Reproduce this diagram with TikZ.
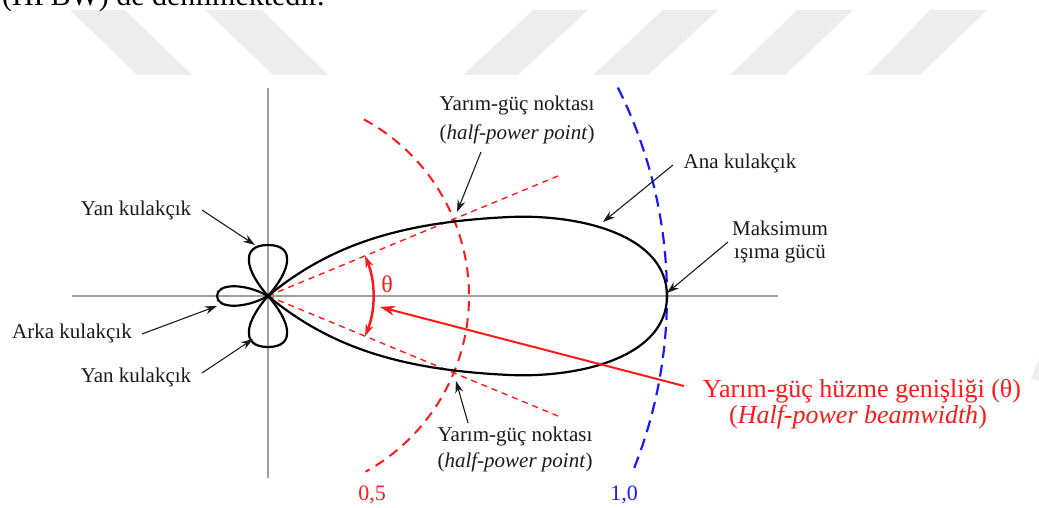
\documentclass[tikz,border=0pt]{standalone}
\usepackage{fontspec}
\setmainfont{Liberation Serif}
\usetikzlibrary{arrows.meta}
\definecolor{wm}{HTML}{EDEDED}
\definecolor{axisgray}{HTML}{A0A0A0}
\definecolor{hred}{HTML}{FF1A1A}
\definecolor{hblue}{HTML}{1A1AFF}
\definecolor{ink}{HTML}{1A1A1A}
\begin{document}
\begin{tikzpicture}[x=1pt,y=-1pt,
  lbl/.style={font=\fontsize{21}{25}\selectfont, text=ink, inner sep=0pt, anchor=base},
  redlbl/.style={font=\fontsize{26}{30}\selectfont, text=hred, inner sep=0pt, anchor=base},
  numlbl/.style={font=\fontsize{22}{26}\selectfont, inner sep=0pt, anchor=base},
  callout/.style={-{Stealth[length=12pt,width=8pt]}, line width=1.1pt, draw=ink},
  axisline/.style={line width=2pt, draw=axisgray},
  lobe/.style={line width=2.2pt, draw=black},
  hpline/.style={line width=1.4pt, draw=hred, dash pattern=on 6pt off 5pt},
  halfarc/.style={line width=2pt, draw=hred, dash pattern=on 10pt off 7pt},
  fullarc/.style={line width=2.2pt, draw=hblue, dash pattern=on 12pt off 7pt},
  thetaarc/.style={{Stealth[length=12pt,width=8pt]}-{Stealth[length=12pt,width=8pt]}, line width=2.5pt, draw=hred},
  bwarrow/.style={-{Stealth[length=15pt,width=10pt]}, line width=2pt, draw=hred}]
\useasboundingbox (0,0) rectangle (1039,508);
\clip (0,0) rectangle (1039,508);
% watermark
\fill[wm] (70,10) -- (125,10) -- (192,75) -- (137,75) -- cycle;
\fill[wm] (205,10) -- (262,10) -- (328,75) -- (273,75) -- cycle;
\fill[wm] (533,10) -- (588,10) -- (518,75) -- (463,75) -- cycle;
\fill[wm] (663,10) -- (718,10) -- (648,75) -- (593,75) -- cycle;
\fill[wm] (797,10) -- (853,10) -- (785,75) -- (730,75) -- cycle;
\fill[wm] (930,10) -- (987,10) -- (920,75) -- (867,75) -- cycle;
\fill[wm] (1031,379) -- (1039,358) -- (1039,381) -- cycle;
% cut-off caption text
\node[anchor=base west, font=\fontsize{30}{36}\selectfont, inner sep=0pt, text=black] (toptxt) at (2,6) {(HPBW) de denilmektedir.};
% axes
\coordinate (O) at (268,296);
\coordinate (axL) at (72,296);
\coordinate (axR) at (778,296);
\coordinate (axT) at (268,88);
\coordinate (axB) at (268,478);
\draw[axisline] (axL) -- (axR);
\draw[axisline] (axT) -- (axB);
% arcs
\draw[halfarc] (O) ++(-61.5:201) arc[start angle=-61.5, end angle=61, radius=201];
\coordinate (C1) at (200,296);
\draw[fullarc] (C1) ++(-26.5:467) arc[start angle=-26.5, end angle=22, radius=467];
% half-power lines
\coordinate (hpU) at (558,176);
\coordinate (hpD) at (558,416);
\draw[hpline] (O) -- (hpU);
\draw[hpline] (O) -- (hpD);
% lobes
\draw[lobe] (O) .. controls (330,245) and (400,222) .. (510,217)
  .. controls (580,214) and (667,235) .. (667,296)
  .. controls (667,357) and (580,378) .. (510,375)
  .. controls (400,370) and (330,347) .. (O);
\draw[lobe] (O) .. controls (245,270) and (240,245) .. (268,245) .. controls (296,245) and (291,270) .. (O);
\draw[lobe] (O) .. controls (245,322) and (240,347) .. (268,347) .. controls (296,347) and (291,322) .. (O);
\draw[lobe] (O) .. controls (245,283) and (217,283) .. (217,296) .. controls (217,309) and (245,309) .. (O);
% theta
\draw[thetaarc] (O) ++(-22.5:105) arc[start angle=-22.5, end angle=22.5, radius=105];
\node[font=\fontsize{24}{28}\selectfont, text=hred, inner sep=0pt] (th) at (387,284) {θ};
% beamwidth label and arrow
\node[redlbl] (bw1) at (862,397) {Yarım-güç hüzme genişliği (θ)};
\node[redlbl] (bw2) at (858,423) {(\textit{Half-power beamwidth})};
\coordinate (bws) at (684,386);
\coordinate (bwt) at (380,307);
\draw[bwarrow] (bws) -- (bwt);
% labels
\node[lbl] (hpT1) at (517,111) {Yarım-güç noktası};
\node[lbl] (hpT2) at (517,140) {(\textit{half-power point})};
\node[lbl] (hpB1) at (515,441) {Yarım-güç noktası};
\node[lbl] (hpB2) at (515,467) {(\textit{half-power point})};
\node[lbl] (ana) at (740,168) {Ana kulakçık};
\node[lbl] (mak1) at (780,235) {Maksimum};
\node[lbl] (mak2) at (780,258) {ışıma gücü};
\node[lbl] (yan1) at (136,215) {Yan kulakçık};
\node[lbl] (arka) at (72,338) {Arka kulakçık};
\node[lbl] (yan2) at (136,382) {Yan kulakçık};
\node[numlbl, text=hred] (n05) at (372,500) {0,5};
\node[numlbl, text=hblue] (n10) at (624,500) {1,0};
% callout arrows
\coordinate (hpTs) at (481,152); \coordinate (hpTt) at (457,212);
\coordinate (hpBs) at (468,423); \coordinate (hpBt) at (456,381);
\coordinate (anas) at (673,165); \coordinate (anat) at (603,222);
\coordinate (maks) at (728,242); \coordinate (makt) at (667,293);
\coordinate (yan1s) at (202,210); \coordinate (yan1t) at (255,245);
\coordinate (arkas) at (142,334); \coordinate (arkat) at (217,306);
\coordinate (yan2s) at (202,373); \coordinate (yan2t) at (253,339);
\draw[callout] (hpTs) -- (hpTt);
\draw[callout] (hpBs) -- (hpBt);
\draw[callout] (anas) -- (anat);
\draw[callout] (maks) -- (makt);
\draw[callout] (yan1s) -- (yan1t);
\draw[callout] (arkas) -- (arkat);
\draw[callout] (yan2s) -- (yan2t);
\end{tikzpicture}
\end{document}
